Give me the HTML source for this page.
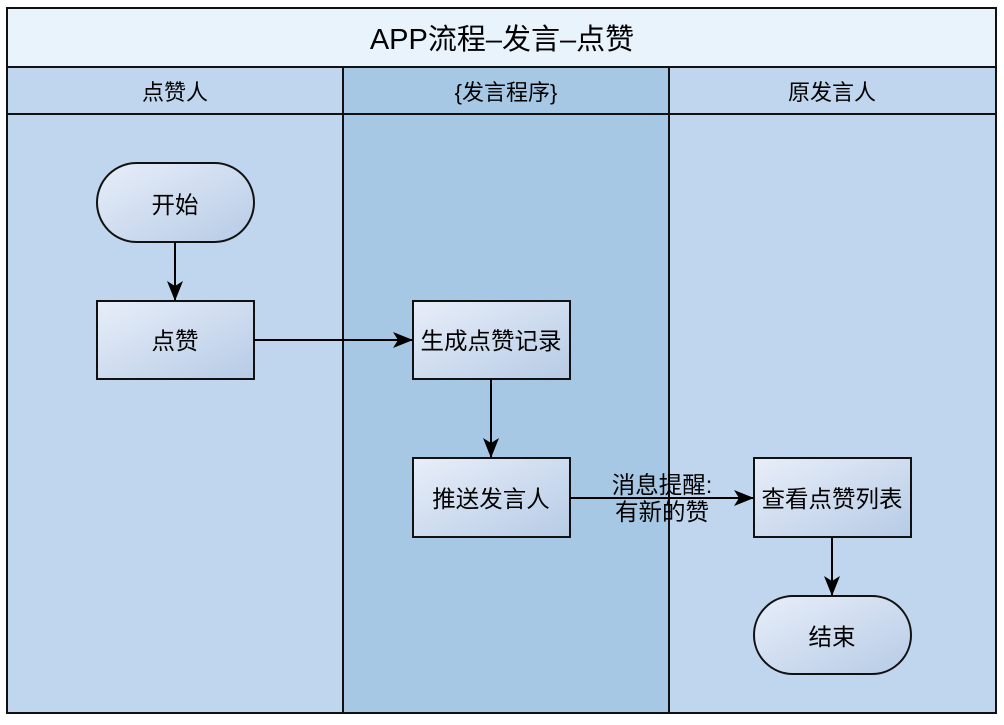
<!DOCTYPE html>
<html><head><meta charset="utf-8"><style>body{margin:0;background:#fff}</style></head><body>
<svg width="1004" height="720" xmlns="http://www.w3.org/2000/svg" font-family="Liberation Sans, Noto Sans CJK SC, sans-serif">
<defs>
<linearGradient id="g" x1="0" y1="0" x2="1" y2="1"><stop offset="0" stop-color="#e8eef9"/><stop offset="1" stop-color="#b6cbe6"/></linearGradient>
<marker id="a" markerWidth="20" markerHeight="16" refX="19" refY="8" orient="auto" markerUnits="userSpaceOnUse"><path d="M0,0 L20,8 L0,16 L5,8 Z" fill="#000"/></marker>
</defs>
<rect x="7" y="8" width="989" height="59" fill="#e9f3fc"/>
<rect x="7" y="67" width="336" height="646" fill="#c0d6ee"/>
<rect x="343" y="67" width="326" height="646" fill="#a6c8e4"/>
<rect x="669" y="67" width="327" height="646" fill="#c0d6ee"/>
<g stroke="#111" stroke-width="2" fill="none">
<rect x="7" y="8" width="989" height="705"/>
<line x1="7" y1="67" x2="996" y2="67"/>
<line x1="7" y1="114" x2="996" y2="114"/>
<line x1="343" y1="67" x2="343" y2="713"/>
<line x1="669" y1="67" x2="669" y2="713"/>
</g>
<g font-size="22" text-anchor="middle" fill="#000">
<text x="502" y="49" font-size="29">APP流程–发言–点赞</text>
<text x="175" y="100">点赞人</text>
<text x="506" y="100">{发言程序}</text>
<text x="832" y="100">原发言人</text>
</g>
<g stroke="#111" stroke-width="2" fill="url(#g)">
<rect x="97" y="163" width="157" height="79" rx="39.5"/>
<rect x="97" y="301" width="157" height="78"/>
<rect x="413" y="301" width="157" height="78"/>
<rect x="413" y="458" width="157" height="79"/>
<rect x="754" y="458" width="157" height="79"/>
<rect x="754" y="596" width="157" height="78" rx="39"/>
</g>
<g stroke="#000" stroke-width="2" fill="none" marker-end="url(#a)">
<line x1="175" y1="242" x2="175" y2="300"/>
<line x1="254" y1="340" x2="412" y2="340"/>
<line x1="491" y1="379" x2="491" y2="457"/>
<line x1="570" y1="498" x2="753" y2="498"/>
<line x1="832" y1="537" x2="832" y2="595"/>
</g>
<g font-size="23.5" text-anchor="middle" fill="#000">
<text x="175" y="213">开始</text>
<text x="175" y="349">点赞</text>
<text x="491" y="349">生成点赞记录</text>
<text x="491" y="507">推送发言人</text>
<text x="832" y="507">查看点赞列表</text>
<text x="832" y="645">结束</text>
<text x="662" y="493">消息提醒:</text>
<text x="662" y="520">有新的赞</text>
</g>
</svg>
</body></html>
